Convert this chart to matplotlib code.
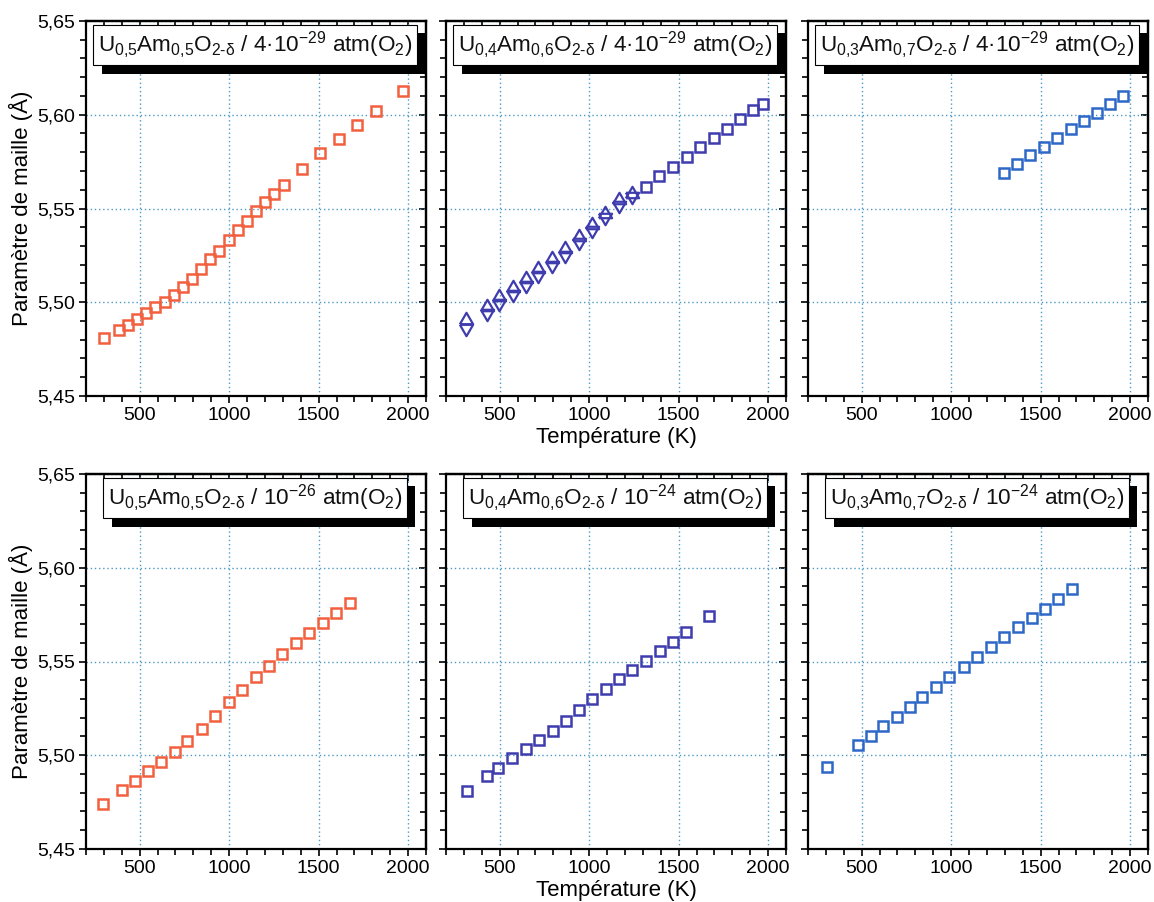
import matplotlib
matplotlib.use("Agg")
import matplotlib.pyplot as plt
from matplotlib.ticker import MultipleLocator, FixedLocator
from matplotlib import patheffects as pe

plt.rcParams['font.family'] = ['Liberation Sans', 'DejaVu Sans']
plt.rcParams['mathtext.fontset'] = 'custom'
plt.rcParams['mathtext.rm'] = 'Liberation Sans'
plt.rcParams['mathtext.it'] = 'Liberation Sans'
plt.rcParams['mathtext.bf'] = 'Liberation Sans:bold'

# ---------------- data ----------------
T_u50_a = [299, 383, 433, 485, 537, 587, 639, 690, 742, 794, 844, 895, 946, 999, 1049,
           1100, 1152, 1202, 1252, 1304, 1407, 1509, 1612, 1714, 1819, 1973]
a_u50_a = [5.4811, 5.4850, 5.4880, 5.4911, 5.4944, 5.4973, 5.5001, 5.5040, 5.5083, 5.5122,
           5.5176, 5.5230, 5.5276, 5.5332, 5.5384, 5.5435, 5.5485, 5.5533, 5.5577, 5.5625,
           5.5713, 5.5796, 5.5871, 5.5945, 5.6018, 5.6125]

T_u40_tri = [312, 427, 498, 573, 647, 716, 794, 865, 943, 1016, 1090, 1165, 1239]
a_u40_up = [5.4914, 5.4984, 5.5039, 5.5088, 5.5136, 5.5190, 5.5243, 5.5297, 5.5360,
            5.5425, 5.5481, 5.5554, 5.5590]
a_u40_down = [5.4852, 5.4932, 5.4984, 5.5033, 5.5083, 5.5136, 5.5190, 5.5243, 5.5311,
              5.5376, 5.5443, 5.5510, 5.5554]
T_u40_sq = [1318, 1392, 1469, 1545, 1621, 1696, 1768, 1844, 1917, 1970]
a_u40_sq = [5.5613, 5.5675, 5.5720, 5.5775, 5.5826, 5.5878, 5.5926, 5.5979, 5.6025, 5.6059]

T_u30_a = [1297, 1370, 1442, 1520, 1593, 1670, 1742, 1815, 1886, 1958]
a_u30_a = [5.5687, 5.5736, 5.5784, 5.5830, 5.5876, 5.5922, 5.5965, 5.6008, 5.6056, 5.6098]

T_u50_b = [297, 400, 474, 548, 619, 696, 766, 847, 921, 997, 1072, 1150, 1224, 1297,
           1375, 1448, 1524, 1599, 1673]
a_u50_b = [5.4740, 5.4813, 5.4861, 5.4914, 5.4962, 5.5017, 5.5074, 5.5138, 5.5211, 5.5284,
           5.5350, 5.5417, 5.5476, 5.5538, 5.5600, 5.5654, 5.5707, 5.5761, 5.5814]

T_u40_b = [316, 427, 492, 570, 646, 718, 796, 869, 944, 1014, 1092, 1166, 1241, 1316,
           1394, 1469, 1542, 1667]
a_u40_b = [5.4809, 5.4888, 5.4930, 5.4985, 5.5031, 5.5079, 5.5128, 5.5181, 5.5241, 5.5298,
           5.5352, 5.5405, 5.5455, 5.5504, 5.5556, 5.5606, 5.5656, 5.5743]

T_u30_b = [308, 480, 553, 620, 695, 770, 839, 915, 990, 1069, 1146, 1223, 1298, 1373,
           1449, 1524, 1599, 1674]
a_u30_b = [5.4939, 5.5053, 5.5105, 5.5155, 5.5205, 5.5256, 5.5311, 5.5366, 5.5419, 5.5472,
           5.5524, 5.5579, 5.5629, 5.5682, 5.5734, 5.5782, 5.5833, 5.5887]

titles = [
    r"U$_{0{,}5}$Am$_{0{,}5}$O$_{2\text{-}\delta}$ / 4·10$^{-29}$ atm(O$_2$)",
    r"U$_{0{,}4}$Am$_{0{,}6}$O$_{2\text{-}\delta}$ / 4·10$^{-29}$ atm(O$_2$)",
    r"U$_{0{,}3}$Am$_{0{,}7}$O$_{2\text{-}\delta}$ / 4·10$^{-29}$ atm(O$_2$)",
    r"U$_{0{,}5}$Am$_{0{,}5}$O$_{2\text{-}\delta}$ / 10$^{-26}$ atm(O$_2$)",
    r"U$_{0{,}4}$Am$_{0{,}6}$O$_{2\text{-}\delta}$ / 10$^{-24}$ atm(O$_2$)",
    r"U$_{0{,}3}$Am$_{0{,}7}$O$_{2\text{-}\delta}$ / 10$^{-24}$ atm(O$_2$)",
]
xticks = [500, 1000, 1500, 2000]
xtick_labels = ['500', '1000', '1500', '2000']
yticks = [5.45, 5.50, 5.55, 5.60, 5.65]
ytick_labels = ['5,45', '5,50', '5,55', '5,60', '5,65']
xlabel = "Température (K)"
ylabel = "Paramètre de maille (Å)"

c_red = '#f2603f'
c_purple = '#3f3cae'
c_blue = '#2d68c8'

# equilateral triangle markers
tri_up = [(-0.5, -0.433), (0.5, -0.433), (0.0, 0.433), (-0.5, -0.433)]
tri_down = [(-0.5, 0.433), (0.5, 0.433), (0.0, -0.433), (-0.5, 0.433)]

# ---------------- figure ----------------
W, H = 1154, 902
fig = plt.figure(figsize=(W / 100, H / 100), dpi=100)

col_left = [86, 446, 808]
row_top = [21, 474]
aw, ah = 340, 375

axes = []
for r in range(2):
    for c in range(3):
        l = col_left[c] / W
        b = (H - (row_top[r] + ah)) / H
        ax = fig.add_axes([l, b, aw / W, ah / H])
        axes.append(ax)

grid_kw = dict(color='#4f9ac4', linestyle=(0, (1, 2)), linewidth=1.0)

for i, ax in enumerate(axes):
    r, c = divmod(i, 3)
    ax.set_xlim(200, 2100)
    ax.set_ylim(5.45, 5.65)
    ax.xaxis.set_major_locator(FixedLocator(xticks))
    ax.xaxis.set_minor_locator(MultipleLocator(100))
    ax.yaxis.set_major_locator(FixedLocator(yticks))
    ax.yaxis.set_minor_locator(MultipleLocator(0.01))
    ax.set_xticklabels(xtick_labels)
    if c == 0:
        ax.set_yticklabels(ytick_labels)
        ax.set_ylabel(ylabel, fontsize=16, labelpad=3)
    else:
        ax.set_yticklabels([])
    if c == 1:
        ax.set_xlabel(xlabel, fontsize=16, labelpad=2)
    ax.tick_params(which='both', direction='out', labelsize=14, width=1.2,
                   top=False, right=False, pad=3, colors='black')
    ax.tick_params(which='major', length=5)
    ax.tick_params(which='minor', length=4)
    for s in ax.spines.values():
        s.set_linewidth(1.6)
    ax.grid(True, which='major', **grid_kw)
    ax.set_axisbelow(True)

    secx = ax.secondary_xaxis('top')
    secx.xaxis.set_major_locator(FixedLocator(xticks))
    secx.xaxis.set_minor_locator(MultipleLocator(100))
    secx.tick_params(which='both', direction='in', labeltop=False, width=1.2)
    secx.tick_params(which='major', length=5)
    secx.tick_params(which='minor', length=4)
    secx.spines['top'].set_linewidth(1.6)
    secy = ax.secondary_yaxis('right')
    secy.yaxis.set_major_locator(FixedLocator(yticks))
    secy.yaxis.set_minor_locator(MultipleLocator(0.01))
    secy.tick_params(which='both', direction='in', labelright=False, width=1.2)
    secy.tick_params(which='major', length=5)
    secy.tick_params(which='minor', length=4)
    secy.spines['right'].set_linewidth(1.6)

    t = ax.text(0.497, 0.936, titles[i], transform=ax.transAxes, ha='center', va='center',
                fontsize=16.2, color='#111111', zorder=10,
                bbox=dict(boxstyle='square,pad=0.2', fc='white', ec='black', lw=0.8))
    t.get_bbox_patch().set_path_effects([
        pe.SimplePatchShadow(offset=(6, -6), shadow_rgbFace='black', alpha=1.0),
        pe.Normal()])

sq_kw = dict(linestyle='none', marker='s', markersize=6.5, markerfacecolor='none',
             markeredgewidth=1.8, zorder=5)
tri_kw = dict(linestyle='none', markersize=9.5, markerfacecolor='none',
              markeredgewidth=1.6, zorder=5)

axes[0].plot(T_u50_a, a_u50_a, color=c_red, **sq_kw)
axes[1].plot(T_u40_tri, a_u40_up, marker=tri_up, color=c_purple, **tri_kw)
axes[1].plot(T_u40_tri, a_u40_down, marker=tri_down, color=c_purple, **tri_kw)
axes[1].plot(T_u40_sq, a_u40_sq, color=c_purple, **sq_kw)
axes[2].plot(T_u30_a, a_u30_a, color=c_blue, **sq_kw)
axes[3].plot(T_u50_b, a_u50_b, color=c_red, **sq_kw)
axes[4].plot(T_u40_b, a_u40_b, color=c_purple, **sq_kw)
axes[5].plot(T_u30_b, a_u30_b, color=c_blue, **sq_kw)

fig.savefig('out.png', dpi=100)
